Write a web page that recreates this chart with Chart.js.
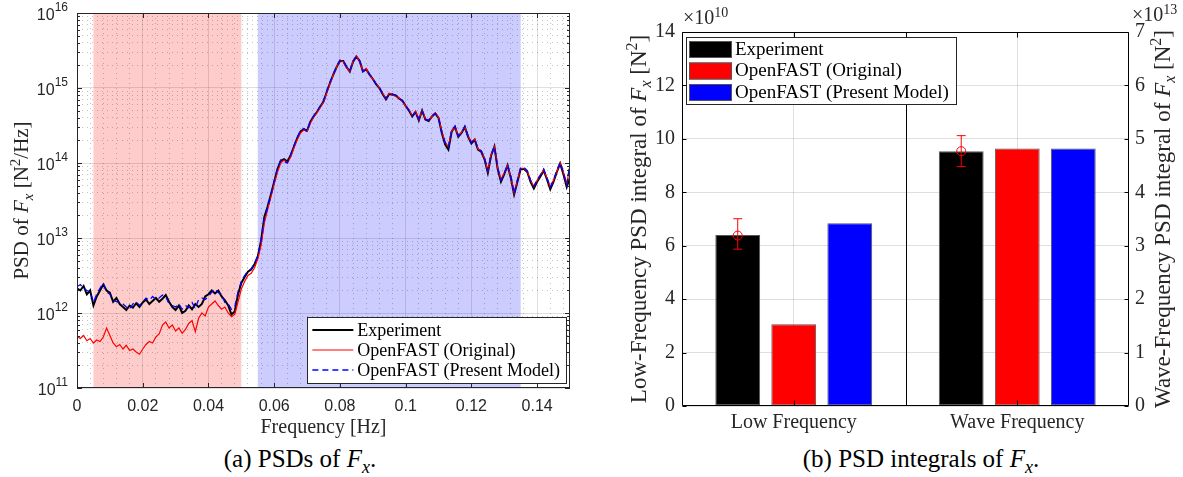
<!DOCTYPE html>
<html>
<head>
<meta charset="utf-8">
<script src="https://cdn.jsdelivr.net/npm/chart.js@4"></script>
<style>
  body { margin: 0; background: #fff; width: 1183px; height: 477px; position: relative; overflow: hidden; }
  canvas { position: absolute; top: 0; }
  #psd { left: 0; }
  #integ { left: 590px; }
  .cap { position: absolute; top: 445px; font-family: "Liberation Serif"; font-size: 25px; text-align: center; color: #000; }
  .cap sub { font-size: 18px; }
</style>
</head>
<body>
<canvas id="psd" width="590" height="440"></canvas>
<canvas id="integ" width="593" height="440"></canvas>
<div class="cap" style="left:150px;width:300px">(a) PSDs of <i>F<sub>x</sub></i>.</div>
<div class="cap" style="left:721px;width:400px">(b) PSD integrals of <i>F<sub>x</sub></i>.</div>
<script>
// ---- (a) PSD of Fx, log10 of PSD [N^2/Hz], one value every FREQ_STEP Hz from 0 ----
const FREQ_STEP = 0.001;
const expLog10 = [
  12.33, 12.30, 12.36, 12.25, 12.30, 12.10, 12.22, 12.30, 12.38, 12.30,
  12.27, 12.15, 12.20, 12.12, 12.08, 12.04, 12.10, 12.07, 12.13, 12.08,
  12.14, 12.18, 12.12, 12.16, 12.20, 12.15, 12.19, 12.24, 12.15, 12.08,
  12.04, 12.10, 12.00, 12.03, 12.10, 12.05, 12.12, 12.08, 12.12, 12.22,
  12.25, 12.30, 12.26, 12.30, 12.22, 12.17, 12.10, 11.98, 12.02, 12.25,
  12.40, 12.48, 12.55, 12.58, 12.65, 12.75, 12.96, 13.28, 13.42, 13.58,
  13.75, 13.92, 14.03, 14.05, 14.02, 14.10, 14.22, 14.33, 14.42, 14.45,
  14.43, 14.55, 14.62, 14.68, 14.75, 14.82, 14.95, 15.07, 15.18, 15.28,
  15.36, 15.36, 15.28, 15.22, 15.35, 15.42, 15.36, 15.22, 15.25, 15.18,
  15.12, 15.05, 15.00, 14.92, 14.85, 14.92, 14.91, 14.90, 14.86, 14.83,
  14.76, 14.70, 14.62, 14.68, 14.57, 14.70, 14.58, 14.56, 14.62, 14.66,
  14.60, 14.40, 14.25, 14.18, 14.42, 14.48, 14.35, 14.40, 14.48, 14.35,
  14.26, 14.31, 14.18, 14.15, 14.05, 13.87, 14.10, 14.22, 13.92, 13.75,
  13.85, 13.97, 13.80, 13.58, 13.75, 13.92, 13.92, 13.88, 13.75, 13.66,
  13.75, 13.82, 13.90, 13.78, 13.65, 13.75, 13.88, 13.99, 13.85, 13.68,
  13.81
];
const origLog10 = [
  11.69, 11.66, 11.70, 11.63, 11.66, 11.60, 11.64, 11.62, 11.68, 11.80,
  11.70, 11.60, 11.55, 11.58, 11.52, 11.57, 11.50, 11.52, 11.48, 11.45,
  11.52, 11.58, 11.62, 11.60, 11.68, 11.72, 11.84, 11.88, 11.80, 11.84,
  11.76, 11.80, 11.73, 11.78, 11.86, 11.90, 11.75, 11.93, 12.00, 11.96,
  12.08, 12.12, 12.16, 12.10, 12.05, 12.08, 12.00, 11.95, 11.98, 12.15,
  12.32, 12.42, 12.50, 12.53, 12.60, 12.72, 12.90, 13.20, 13.38, 13.55,
  13.72, 13.88, 14.00, 14.04, 14.00, 14.08, 14.20, 14.31, 14.40, 14.44,
  14.42, 14.53, 14.61, 14.67, 14.74, 14.81, 14.94, 15.06, 15.18, 15.28,
  15.37, 15.35, 15.27, 15.22, 15.36, 15.43, 15.35, 15.23, 15.26, 15.17,
  15.12, 15.06, 15.00, 14.93, 14.86, 14.93, 14.91, 14.89, 14.87, 14.82,
  14.76, 14.71, 14.63, 14.69, 14.58, 14.70, 14.59, 14.57, 14.62, 14.67,
  14.61, 14.42, 14.28, 14.22, 14.43, 14.48, 14.36, 14.41, 14.48, 14.36,
  14.28, 14.32, 14.19, 14.16, 14.06, 13.89, 14.11, 14.22, 13.94, 13.78,
  13.87, 13.97, 13.81, 13.60, 13.77, 13.93, 13.93, 13.89, 13.77, 13.69,
  13.77, 13.84, 13.91, 13.80, 13.68, 13.77, 13.89, 14.01, 13.88, 13.72,
  13.97
];
const presLog10 = [
  12.35, 12.38, 12.33, 12.30, 12.28, 12.14, 12.25, 12.33, 12.40, 12.28,
  12.25, 12.18, 12.15, 12.14, 12.12, 12.08, 12.05, 12.12, 12.15, 12.10,
  12.15, 12.20, 12.17, 12.22, 12.18, 12.20, 12.24, 12.22, 12.12, 12.10,
  12.08, 12.12, 12.05, 12.10, 12.07, 12.14, 12.06, 12.18, 12.20, 12.18,
  12.22, 12.28, 12.32, 12.27, 12.25, 12.14, 12.12, 12.05, 12.08, 12.28,
  12.42, 12.50, 12.56, 12.59, 12.66, 12.76, 12.97, 13.27, 13.40, 13.57,
  13.76, 13.93, 14.04, 14.02, 14.00, 14.11, 14.23, 14.34, 14.43, 14.46,
  14.42, 14.56, 14.63, 14.69, 14.76, 14.83, 14.96, 15.08, 15.19, 15.29,
  15.37, 15.36, 15.28, 15.23, 15.36, 15.42, 15.36, 15.22, 15.25, 15.18,
  15.13, 15.05, 15.01, 14.92, 14.86, 14.92, 14.92, 14.90, 14.86, 14.83,
  14.77, 14.70, 14.63, 14.68, 14.59, 14.69, 14.58, 14.57, 14.63, 14.66,
  14.60, 14.41, 14.27, 14.21, 14.43, 14.49, 14.36, 14.40, 14.49, 14.36,
  14.27, 14.32, 14.19, 14.16, 14.06, 13.90, 14.11, 14.22, 13.93, 13.77,
  13.86, 13.98, 13.82, 13.59, 13.77, 13.94, 13.94, 13.90, 13.77, 13.69,
  13.78, 13.84, 13.92, 13.80, 13.68, 13.78, 13.90, 14.01, 13.87, 13.71,
  14.00
];
const lowBand = [0.005, 0.05];     // Hz, shaded red
const waveBand = [0.055, 0.135];   // Hz, shaded blue
const xMajorTicks = [0, 0.02, 0.04, 0.06, 0.08, 0.1, 0.12, 0.14];
const xMinorStep = 0.004;
const yDecades = [11, 12, 13, 14, 15, 16];

// ---- (b) PSD integrals ----
const barCategories = ['Low Frequency', 'Wave Frequency'];
const seriesNames = ['Experiment', 'OpenFAST (Original)', 'OpenFAST (Present Model)'];
const seriesColors = ['#000000', '#ff0000', '#0000ff'];
const lowIntegral = [6.40e10, 3.06e10, 6.84e10];   // N^2, left axis
const waveIntegral = [4.77e13, 4.82e13, 4.82e13];  // N^2, right axis
const expLowErr = [5.87e10, 6.38e10, 7.01e10];     // low, mean, high
const expWaveErr = [4.48e13, 4.77e13, 5.06e13];

const GRID = 'rgba(38,38,38,0.15)';
const MINOR = 'rgba(38,38,38,0.28)';
const INK = '#262626';

function fontFor(kind, size) {
  const s = (kind === 'sub' || kind === 'sup') ? Math.round(size * 0.7) : size;
  const it = (kind === 'i' || kind === 'sub') ? 'italic ' : '';
  return it + s + 'px "Liberation Serif"';
}

// mixed-style text (italic F, subscripts, superscripts) centred on cx, cy
function drawRich(ctx, parts, size, cx, cy, angle) {
  ctx.save();
  ctx.translate(cx, cy);
  ctx.rotate(angle);
  let w = 0;
  parts.forEach(([t, k]) => { ctx.font = fontFor(k, size); w += ctx.measureText(t).width; });
  let x = -w / 2;
  ctx.textAlign = 'left';
  ctx.textBaseline = 'alphabetic';
  parts.forEach(([t, k]) => {
    ctx.font = fontFor(k, size);
    const dy = k === 'sub' ? size * 0.22 : k === 'sup' ? -size * 0.38 : 0;
    ctx.fillText(t, x, size * 0.33 + dy);
    x += ctx.measureText(t).width;
  });
  ctx.restore();
}

const isDecade = v => Math.abs(Math.log10(v) - Math.round(Math.log10(v))) < 1e-9;
const isXMajor = v => xMajorTicks.some(m => Math.abs(m - v) < 1e-9);
const toPoints = arr => arr.map((v, i) => ({ x: i * FREQ_STEP, y: Math.pow(10, v) }));

const psdDecor = {
  id: 'psdDecor',
  beforeDraw(chart) {
    const { ctx, chartArea: a, scales: { x } } = chart;
    ctx.save();
    [[lowBand, 'rgba(255,0,0,0.2)'], [waveBand, 'rgba(0,0,255,0.2)']].forEach(([b, c]) => {
      const x0 = x.getPixelForValue(b[0]);
      const x1 = x.getPixelForValue(b[1]);
      ctx.fillStyle = c;
      ctx.fillRect(x0, a.top, x1 - x0, a.bottom - a.top);
    });
    ctx.restore();
  },
  afterDraw(chart) {
    const { ctx, chartArea: a, scales: { x, y } } = chart;
    ctx.save();
    ctx.strokeStyle = INK;
    ctx.lineWidth = 1;
    ctx.strokeRect(a.left + 0.5, a.top + 0.5, a.right - a.left - 1, a.bottom - a.top - 1);

    // inward ticks
    ctx.beginPath();
    xMajorTicks.forEach(v => {
      const px = Math.round(x.getPixelForValue(v)) + 0.5;
      ctx.moveTo(px, a.bottom); ctx.lineTo(px, a.bottom - 5);
      ctx.moveTo(px, a.top); ctx.lineTo(px, a.top + 5);
    });
    y.ticks.forEach(t => {
      const py = Math.round(y.getPixelForValue(t.value)) + 0.5;
      const len = isDecade(t.value) ? 5 : 3;
      ctx.moveTo(a.left, py); ctx.lineTo(a.left + len, py);
      ctx.moveTo(a.right, py); ctx.lineTo(a.right - len, py);
    });
    ctx.stroke();

    // 10^n labels
    ctx.fillStyle = INK;
    ctx.textBaseline = 'middle';
    ctx.textAlign = 'right';
    yDecades.forEach(e => {
      const py = y.getPixelForValue(Math.pow(10, e));
      ctx.font = '12px "Liberation Sans"';
      const ew = ctx.measureText(String(e)).width;
      ctx.fillText(String(e), a.left - 9, py - 5);
      ctx.font = '16px "Liberation Sans"';
      ctx.fillText('10', a.left - 9 - ew, py + 3);
    });

    drawRich(ctx, [['PSD of ', 'n'], ['F', 'i'], ['x', 'sub'], [' [N', 'n'], ['2', 'sup'], ['/Hz]', 'n']],
      21, 21, (a.top + a.bottom) / 2, -Math.PI / 2);

    // legend, bottom right inside the axes
    const ds = chart.data.datasets;
    ctx.font = '18px "Liberation Serif"';
    const tw = Math.max(...ds.map(d => ctx.measureText(d.label).width));
    const bw = 50 + tw + 6, bh = ds.length * 20 + 6;
    const bx = a.right - 4 - bw, by = a.bottom - 5 - bh;
    ctx.fillStyle = '#fff';
    ctx.fillRect(bx, by, bw, bh);
    ctx.strokeStyle = INK;
    ctx.strokeRect(Math.round(bx) + 0.5, Math.round(by) + 0.5, Math.round(bw), Math.round(bh));
    ds.forEach((d, i) => {
      const cy = by + 13 + i * 20;
      ctx.beginPath();
      ctx.strokeStyle = d.borderColor;
      ctx.lineWidth = d.borderWidth;
      ctx.setLineDash(d.borderDash || []);
      ctx.moveTo(bx + 5, cy); ctx.lineTo(bx + 46, cy);
      ctx.stroke();
      ctx.setLineDash([]);
      ctx.fillStyle = '#000';
      ctx.textAlign = 'left';
      ctx.textBaseline = 'middle';
      ctx.font = '18px "Liberation Serif"';
      ctx.fillText(d.label, bx + 50, cy + 1);
    });
    ctx.restore();
  }
};

// ---- (b) bars: low band on left axis, wave band on right axis ----
const barDecor = {
  id: 'barDecor',
  afterDatasetsDraw(chart) {
    const { ctx, scales: { y, y2 } } = chart;
    const drawErr = (xPix, scale, vals) => {
      const [yl, ym, yh] = vals.map(v => scale.getPixelForValue(v));
      ctx.save();
      ctx.strokeStyle = '#ff0000';
      ctx.lineWidth = 1;
      ctx.beginPath();
      ctx.moveTo(xPix, yl); ctx.lineTo(xPix, yh);
      ctx.moveTo(xPix - 4.5, yl); ctx.lineTo(xPix + 4.5, yl);
      ctx.moveTo(xPix - 4.5, yh); ctx.lineTo(xPix + 4.5, yh);
      ctx.stroke();
      ctx.beginPath();
      ctx.arc(xPix, ym, 4.5, 0, Math.PI * 2);
      ctx.stroke();
      ctx.restore();
    };
    drawErr(chart.getDatasetMeta(0).data[0].x, y, expLowErr);
    drawErr(chart.getDatasetMeta(1).data[1].x, y2, expWaveErr);
  },
  afterDraw(chart) {
    const { ctx, chartArea: a, scales: { x, y, y2 } } = chart;
    ctx.save();
    ctx.strokeStyle = '#000';
    ctx.lineWidth = 1;
    const L = Math.round(a.left) + 0.5, R = Math.round(a.right) - 0.5;
    const T = Math.round(a.top) + 0.5, B = Math.round(a.bottom) - 0.5;
    ctx.beginPath();
    ctx.moveTo(L, T); ctx.lineTo(R, T); ctx.lineTo(R, B); ctx.lineTo(L, B); ctx.closePath();
    // divider between the two groups
    const mid = Math.round((x.getPixelForValue(0) + x.getPixelForValue(1)) / 2) + 0.5;
    ctx.moveTo(mid, T); ctx.lineTo(mid, B);
    // inward ticks
    barCategories.forEach((c, i) => {
      const px = Math.round(x.getPixelForValue(i)) + 0.5;
      ctx.moveTo(px, T); ctx.lineTo(px, T + 5);
      ctx.moveTo(px, B); ctx.lineTo(px, B - 5);
    });
    y.ticks.forEach(t => {
      const py = Math.round(y.getPixelForValue(t.value)) + 0.5;
      ctx.moveTo(L, py); ctx.lineTo(L + 4, py);
    });
    y2.ticks.forEach(t => {
      const py = Math.round(y2.getPixelForValue(t.value)) + 0.5;
      ctx.moveTo(R, py); ctx.lineTo(R - 4, py);
    });
    ctx.stroke();

    // exponent multipliers
    ctx.fillStyle = INK;
    ctx.textAlign = 'left';
    ctx.textBaseline = 'alphabetic';
    const mult = (x0, base, exp) => {
      ctx.font = '20px "Liberation Serif"';
      ctx.fillText('\u00d710', x0, base);
      const w = ctx.measureText('\u00d710').width;
      ctx.font = '14px "Liberation Serif"';
      ctx.fillText(exp, x0 + w, base - 7);
    };
    mult(a.left + 1, 24, '10');
    mult(a.right + 3, 21, '13');

    const tail = [['F', 'i'], ['x', 'sub'], [' [N', 'n'], ['2', 'sup'], [']', 'n']];
    drawRich(ctx, [['Low-Frequency PSD integral of ', 'n'], ...tail], 23, a.left - 44, (a.top + a.bottom) / 2, -Math.PI / 2);
    drawRich(ctx, [['Wave-Frequency PSD integral of ', 'n'], ...tail], 23, a.right + 33, (a.top + a.bottom) / 2, -Math.PI / 2);

    // legend, top left inside the axes
    ctx.font = '19px "Liberation Serif"';
    const tw = Math.max(...seriesNames.map(s => ctx.measureText(s).width));
    const bx = a.left + 4, by = a.top + 5, bw = 49 + tw + 7, bh = 67;
    ctx.fillStyle = '#fff';
    ctx.fillRect(bx, by, bw, bh);
    ctx.strokeStyle = INK;
    ctx.strokeRect(Math.round(bx) + 0.5, Math.round(by) + 0.5, Math.round(bw), bh);
    seriesNames.forEach((s, i) => {
      const cy = by + 12 + i * 21.5;
      ctx.fillStyle = seriesColors[i];
      ctx.fillRect(bx + 3, cy - 8, 43, 17);
      ctx.strokeStyle = '#555';
      ctx.strokeRect(bx + 3.5, cy - 7.5, 42, 16);
      ctx.fillStyle = '#000';
      ctx.textBaseline = 'middle';
      ctx.font = '19px "Liberation Serif"';
      ctx.fillText(s, bx + 49, cy + 1);
    });
    ctx.restore();
  }
};

function drawCharts() {
  new Chart(document.getElementById('psd'), {
    type: 'line',
    data: {
      datasets: [
        { label: 'Experiment', data: toPoints(expLog10), borderColor: '#000000', borderWidth: 2, order: 3 },
        { label: 'OpenFAST (Original)', data: toPoints(origLog10), borderColor: '#ff0000', borderWidth: 1.2, order: 2 },
        { label: 'OpenFAST (Present Model)', data: toPoints(presLog10), borderColor: '#0000ff', borderWidth: 1.3, borderDash: [6, 4], order: 1 }
      ]
    },
    options: {
      responsive: false,
      animation: false,
      events: [],
      layout: { padding: { left: 0, right: 20, top: 13, bottom: 0 } },
      elements: { point: { radius: 0 }, line: { tension: 0 } },
      plugins: { legend: { display: false }, tooltip: { enabled: false } },
      scales: {
        x: {
          type: 'linear',
          min: 0,
          max: 0.15,
          afterBuildTicks: scale => {
            const ticks = [];
            for (let v = 0; v < 0.15 - 1e-9; v += xMinorStep) ticks.push({ value: +v.toFixed(3) });
            scale.ticks = ticks;
          },
          afterFit: scale => { scale.height = 52; },
          ticks: {
            autoSkip: false,
            maxRotation: 0,
            padding: 9,
            color: INK,
            font: { family: 'Liberation Sans', size: 16 },
            callback: v => isXMajor(v) ? String(+v.toFixed(2)) : ''
          },
          grid: {
            drawTicks: false,
            color: c => isXMajor(c.tick.value) ? GRID : MINOR
          },
          border: { display: false, dash: c => (c.tick && isXMajor(c.tick.value)) ? [] : [1, 4] },
          title: {
            display: true,
            text: 'Frequency [Hz]',
            color: INK,
            font: { family: 'Liberation Serif', size: 20 },
            padding: { top: 0, bottom: 0 }
          }
        },
        y: {
          type: 'logarithmic',
          min: 1e11,
          max: 1e16,
          afterBuildTicks: scale => {
            const ticks = [];
            yDecades.slice(0, -1).forEach(e => {
              for (let m = 1; m <= 9; m++) ticks.push({ value: m * Math.pow(10, e) });
            });
            ticks.push({ value: Math.pow(10, yDecades[yDecades.length - 1]) });
            scale.ticks = ticks;
          },
          afterFit: scale => { scale.width = 77; },
          ticks: { display: false, autoSkip: false },
          grid: {
            drawTicks: false,
            color: c => isDecade(c.tick.value) ? GRID : MINOR
          },
          border: { display: false, dash: c => (c.tick && isDecade(c.tick.value)) ? [] : [1, 4] }
        }
      }
    },
    plugins: [psdDecor]
  });

  const barSets = [];
  seriesNames.forEach((name, i) => {
    const common = {
      label: name,
      backgroundColor: seriesColors[i],
      borderColor: '#555555',
      borderWidth: 1,
      borderSkipped: false,
      skipNull: true,
      categoryPercentage: 0.752,
      barPercentage: 0.8
    };
    barSets.push(Object.assign({}, common, { data: [lowIntegral[i], null], yAxisID: 'y' }));
    barSets.push(Object.assign({}, common, { data: [null, waveIntegral[i]], yAxisID: 'y2' }));
  });

  const serifTick = { family: 'Liberation Serif', size: 20 };

  new Chart(document.getElementById('integ'), {
    type: 'bar',
    data: { labels: barCategories, datasets: barSets },
    options: {
      responsive: false,
      animation: false,
      events: [],
      layout: { padding: { left: 0, right: 0, top: 32, bottom: 0 } },
      plugins: { legend: { display: false }, tooltip: { enabled: false } },
      scales: {
        x: {
          type: 'category',
          offset: true,
          afterFit: scale => { scale.height = 34; },
          ticks: { color: INK, font: serifTick, padding: 5 },
          grid: { offset: false, drawTicks: false, color: GRID },
          border: { display: false }
        },
        y: {
          position: 'left',
          min: 0,
          max: 14e10,
          afterFit: scale => { scale.width = 92; },
          ticks: { stepSize: 2e10, color: INK, font: serifTick, padding: 7, callback: v => String(Math.round(v / 1e10)) },
          grid: { drawTicks: false, color: GRID },
          border: { display: false }
        },
        y2: {
          position: 'right',
          min: 0,
          max: 7e13,
          afterFit: scale => { scale.width = 54; },
          ticks: { stepSize: 1e13, color: INK, font: serifTick, padding: 6, callback: v => String(Math.round(v / 1e13)) },
          grid: { drawOnChartArea: false, drawTicks: false },
          border: { display: false }
        }
      }
    },
    plugins: [barDecor]
  });
}

Promise.all([
  document.fonts.load('20px "Liberation Serif"'),
  document.fonts.load('italic 20px "Liberation Serif"'),
  document.fonts.load('16px "Liberation Sans"')
]).then(drawCharts, drawCharts);
</script>
</body>
</html>
